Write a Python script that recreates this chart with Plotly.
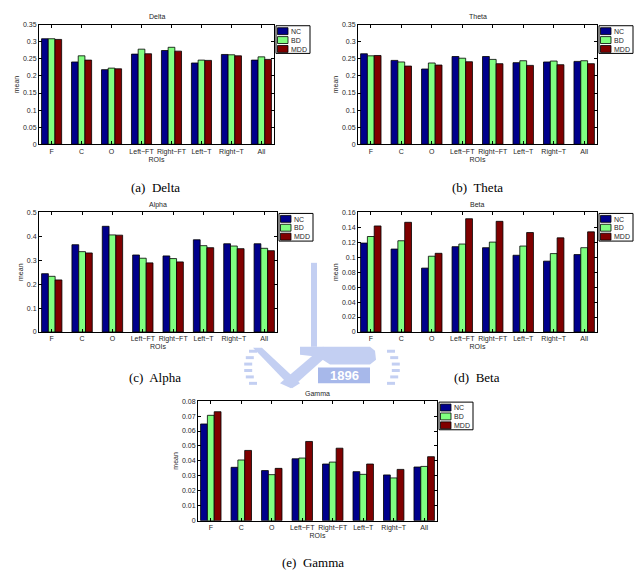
import plotly.graph_objects as go

# ---------------- data ----------------
rois = ["F", "C", "O", "Left\u2212FT", "Right\u2212FT", "Left\u2212T", "Right\u2212T", "All"]
groups = ["NC", "BD", "MDD"]

delta_nc = [0.309, 0.241, 0.2185, 0.264, 0.2745, 0.238, 0.263, 0.2465]
delta_bd = [0.309, 0.259, 0.223, 0.2785, 0.284, 0.2465, 0.262, 0.256]
delta_mdd = [0.307, 0.2465, 0.221, 0.265, 0.2727, 0.2456, 0.259, 0.2485]

theta_nc = [0.265, 0.2456, 0.2204, 0.257, 0.257, 0.239, 0.241, 0.2427]
theta_bd = [0.259, 0.241, 0.238, 0.252, 0.2485, 0.2446, 0.2437, 0.2446]
theta_mdd = [0.260, 0.229, 0.232, 0.2417, 0.236, 0.231, 0.233, 0.236]

alpha_nc = [0.2438, 0.365, 0.442, 0.322, 0.318, 0.3857, 0.369, 0.369]
alpha_bd = [0.2328, 0.336, 0.406, 0.3085, 0.307, 0.361, 0.3595, 0.350]
alpha_mdd = [0.2176, 0.3306, 0.405, 0.289, 0.293, 0.3526, 0.3485, 0.340]

beta_nc = [0.119, 0.111, 0.0855, 0.1142, 0.1128, 0.1027, 0.0948, 0.1036]
beta_bd = [0.1278, 0.1221, 0.1014, 0.1177, 0.1203, 0.115, 0.1049, 0.1128]
beta_mdd = [0.1419, 0.1468, 0.1053, 0.1516, 0.1481, 0.1331, 0.126, 0.134]

gamma_nc = [0.0647, 0.0357, 0.0335, 0.0414, 0.0379, 0.0328, 0.0306, 0.0359]
gamma_bd = [0.0705, 0.0406, 0.0308, 0.0419, 0.0392, 0.031, 0.0286, 0.0363]
gamma_mdd = [0.0729, 0.047, 0.035, 0.053, 0.0485, 0.0379, 0.0343, 0.0428]

titles = ["Delta", "Theta", "Alpha", "Beta", "Gamma"]
captions = ["(a)  Delta", "(b)  Theta", "(c)  Alpha", "(d)  Beta", "(e)  Gamma"]
y_max = [0.35, 0.35, 0.5, 0.16, 0.08]
y_dtick = [0.05, 0.05, 0.1, 0.02, 0.01]
watermark_text = "1896"

# ---------------- style / layout ----------------
W, H = 637, 577
colors = ["#00008c", "#80ff80", "#800000"]
FONT = "Liberation Sans, Arial, sans-serif"
SERIF = "Liberation Serif, Times New Roman, serif"
TXT = "#262626"

# plot-area boxes in pixels: (left, top, right, bottom)
boxes = [(39, 21, 274, 142), (358, 21, 597, 142),
         (39, 211, 277, 332), (358, 211, 597, 332),
         (198, 402, 437, 523)]
caption_y = [186, 186, 378, 378, 565]
caption_x = [155, 477, 155, 477, 313]

series = [
    (delta_nc, delta_bd, delta_mdd),
    (theta_nc, theta_bd, theta_mdd),
    (alpha_nc, alpha_bd, alpha_mdd),
    (beta_nc, beta_bd, beta_mdd),
    (gamma_nc, gamma_bd, gamma_mdd),
]


def px(x):
    return x / W


def py(y):
    return 1 - y / H


def poly(points):
    return "M" + "L".join(f"{px(a):.5f},{py(b):.5f}" for a, b in points) + "Z"


fig = go.Figure()
shapes = []
annotations = []
layout_axes = {}

# faint background watermark (university logo, simplified)
WM = "#c3cff2"
WM2 = "#a7b8ea"


def wm_path(points, color=WM):
    shapes.append(dict(type="path", xref="paper", yref="paper", layer="below",
                       path=poly(points), line=dict(width=0), fillcolor=color))


wm_path([(311, 262), (317, 262), (317, 347), (311, 347)])
wm_path([(300, 347), (370, 347), (375, 351), (376, 360), (370, 365), (330, 365), (318, 357), (300, 355)])
wm_path([(253, 348), (262, 348), (300, 384), (292, 389)])
wm_path([(280, 384), (291, 389), (333, 351), (323, 347)])
for k in range(6):
    yy = 350 + k * 6.5
    off = abs(k - 2.5) ** 2 * 0.8
    wm_path([(244 + off, yy), (252 + off, yy), (252 + off, yy + 3), (244 + off, yy + 3)])
    wm_path([(384 - off + 8, yy), (392 - off + 8, yy), (392 - off + 8, yy + 3), (384 - off + 8, yy + 3)])
shapes.append(dict(type="rect", xref="paper", yref="paper", layer="below",
                   x0=px(318), x1=px(370), y0=py(384), y1=py(368),
                   line=dict(width=0), fillcolor=WM2))
annotations.append(dict(text="<b>" + watermark_text + "</b>", x=px(344), y=py(376),
                        xref="paper", yref="paper", showarrow=False,
                        font=dict(family=FONT, size=13, color="white"),
                        xanchor="center", yanchor="middle"))

for i, (vals, box) in enumerate(zip(series, boxes)):
    n = i + 1
    xa = "x" if n == 1 else f"x{n}"
    ya = "y" if n == 1 else f"y{n}"
    for g, v, c in zip(groups, vals, colors):
        fig.add_trace(go.Bar(
            x=rois, y=v, name=g, marker=dict(color=c, line=dict(color="black", width=0.8)),
            xaxis=xa, yaxis=ya, showlegend=False,
        ))
    l, t, r, b = box
    xkey = "xaxis" if n == 1 else f"xaxis{n}"
    ykey = "yaxis" if n == 1 else f"yaxis{n}"
    layout_axes[xkey] = dict(
        domain=[px(l), px(r)], anchor=ya, range=[-0.42, 7.42],
        showline=True, linecolor="black", linewidth=1, mirror="allticks",
        ticks="inside", ticklen=3, tickcolor="black", showgrid=False,
        tickfont=dict(family=FONT, size=7, color=TXT),
        title=dict(text="ROIs", font=dict(family=FONT, size=7, color=TXT), standoff=0),
        fixedrange=True,
    )
    layout_axes[ykey] = dict(
        domain=[py(b), py(t)], anchor=xa, range=[0, y_max[i]], dtick=y_dtick[i], tick0=0,
        showline=True, linecolor="black", linewidth=1, mirror="allticks",
        ticks="inside", ticklen=3, tickcolor="black", showgrid=False, zeroline=False,
        tickfont=dict(family=FONT, size=7, color=TXT),
        title=dict(text="mean", font=dict(family=FONT, size=7, color=TXT), standoff=2),
        fixedrange=True,
    )
    # subplot title
    annotations.append(dict(
        text=titles[i], x=px((l + r) / 2), y=py(t - 8), xref="paper", yref="paper",
        showarrow=False, font=dict(family=FONT, size=7, color=TXT),
        xanchor="center", yanchor="middle",
    ))
    # caption
    annotations.append(dict(
        text=captions[i], x=px(caption_x[i]), y=py(caption_y[i]), xref="paper", yref="paper",
        showarrow=False, font=dict(family=SERIF, size=13, color="black"),
        xanchor="center", yanchor="middle",
    ))
    # legend box (drawn manually to match compact MATLAB legend)
    lx0, ly0 = r + 2, t + 1
    lx1, ly1 = lx0 + 34, ly0 + 28
    shapes.append(dict(type="rect", xref="paper", yref="paper",
                       x0=px(lx0), x1=px(lx1), y0=py(ly1), y1=py(ly0),
                       line=dict(color="black", width=1), fillcolor="white", layer="above"))
    for k, (g, c) in enumerate(zip(groups, colors)):
        sy0 = ly0 + 2 + k * 9
        shapes.append(dict(type="rect", xref="paper", yref="paper",
                           x0=px(lx0 + 1.5), x1=px(lx0 + 12), y0=py(sy0 + 7), y1=py(sy0),
                           line=dict(color="black", width=0.8), fillcolor=c, layer="above"))
        annotations.append(dict(
            text=g, x=px(lx0 + 12.5), y=py(sy0 + 3.7), xref="paper", yref="paper",
            showarrow=False, font=dict(family=FONT, size=7, color=TXT),
            xanchor="left", yanchor="middle",
        ))

fig.update_layout(
    width=W, height=H, margin=dict(l=0, r=0, t=0, b=0),
    paper_bgcolor="white", plot_bgcolor="rgba(0,0,0,0)",
    barmode="group", bargap=0.33, bargroupgap=0,
    shapes=shapes, annotations=annotations,
    **layout_axes,
)

fig.write_html("out.html")
